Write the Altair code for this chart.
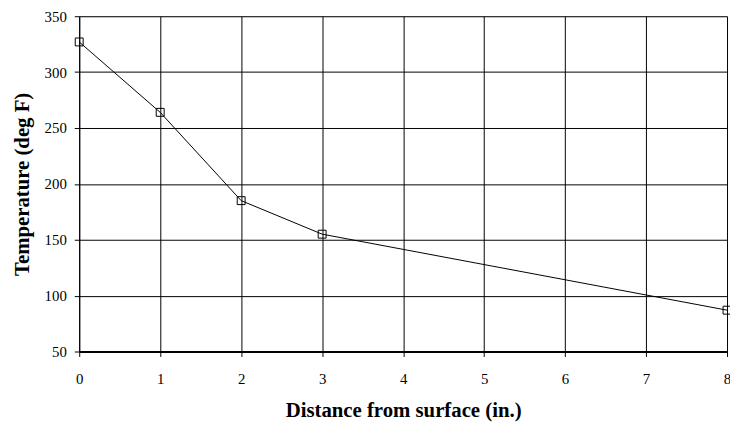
import altair as alt
import pandas as pd

distance = [0, 1, 2, 3, 8]
temperature = [327, 264, 185, 155, 87]
x_ticks = [0, 1, 2, 3, 4, 5, 6, 7, 8]
y_ticks = [50, 100, 150, 200, 250, 300, 350]

df = pd.DataFrame({"distance": distance, "temperature": temperature})

FONT = "Liberation Serif"

x_enc = alt.X(
    "distance:Q",
    scale=alt.Scale(domain=[0, 8], nice=False, zero=False),
    axis=alt.Axis(
        values=x_ticks, format="d", title="Distance from surface (in.)",
        grid=True, gridColor="black", gridWidth=1, gridOpacity=1,
        domainColor="black", domainWidth=2,
        tickColor="black", tickSize=5, tickWidth=1,
        labelFont=FONT, labelFontSize=15, labelColor="black", labelPadding=15,
        labelFlush=False,
        titleFont=FONT, titleFontSize=21, titleFontWeight="bold", titleColor="black",
        titlePadding=14,
    ),
)
y_enc = alt.Y(
    "temperature:Q",
    scale=alt.Scale(domain=[50, 350], nice=False, zero=False),
    axis=alt.Axis(
        values=y_ticks, format="d", title="Temperature (deg F)",
        grid=True, gridColor="black", gridWidth=1, gridOpacity=1,
        domainColor="black", domainWidth=1,
        tickColor="black", tickSize=5, tickWidth=1,
        labelFont=FONT, labelFontSize=15, labelColor="black", labelPadding=8,
        labelFlush=False,
        titleFont=FONT, titleFontSize=21, titleFontWeight="bold", titleColor="black",
        titlePadding=12,
    ),
)

line = alt.Chart(df).mark_line(color="black", strokeWidth=1).encode(x=x_enc, y=y_enc)
pts = alt.Chart(df).mark_point(
    shape="square", size=64, filled=False, color="black", strokeWidth=1, opacity=1
).encode(x="distance:Q", y="temperature:Q")

chart = (
    alt.layer(line, pts)
    .properties(
        width=655, height=339,
        autosize=alt.AutoSizeParams(type="none"),
        padding={"left": 72, "top": 6, "right": 3, "bottom": 74},
    )
    .configure_view(stroke=None)
    .configure_axis(labelFont=FONT, titleFont=FONT)
    .configure(background="white", font=FONT)
)

chart.save("out.html", embed_options={"renderer": "svg", "actions": False})
